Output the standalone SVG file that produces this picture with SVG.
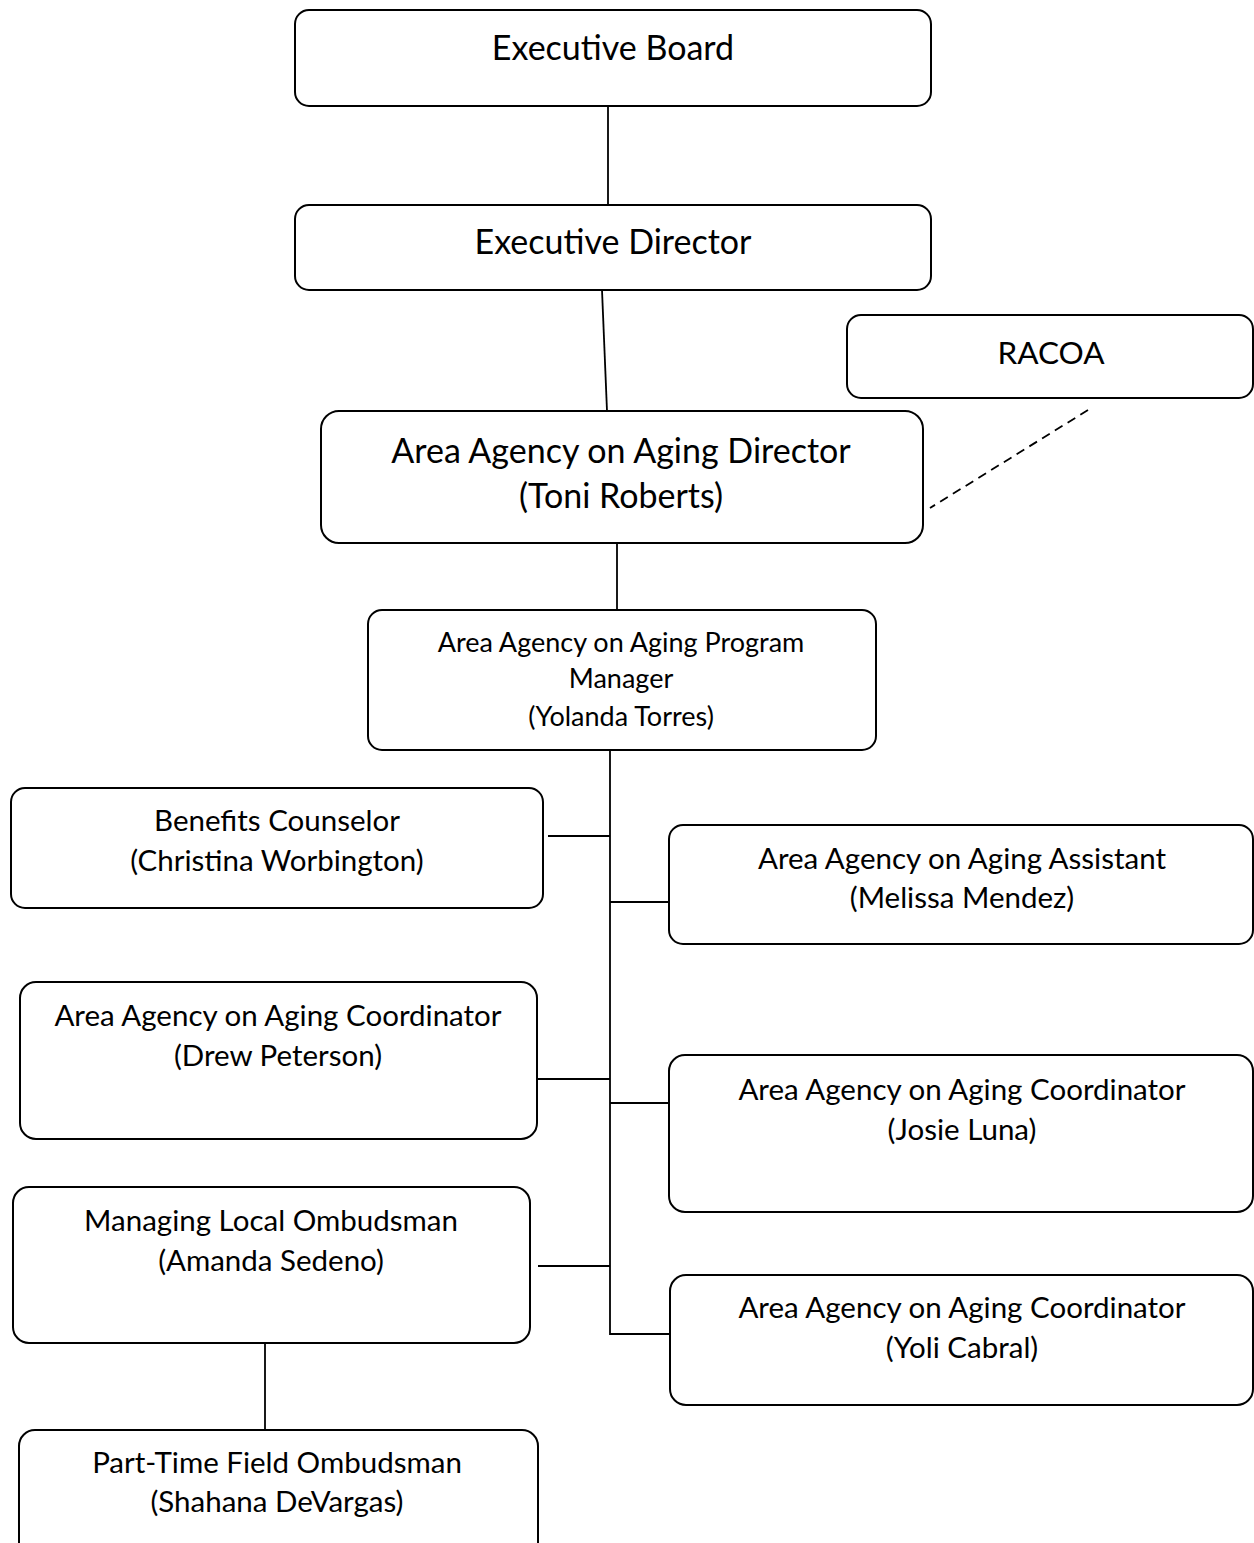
<svg xmlns="http://www.w3.org/2000/svg" width="1254" height="1543" viewBox="0 0 1254 1543">
  <style>
    .box { fill: #ffffff; stroke: #000000; stroke-width: 2; }
    .wire { fill: none; stroke: #000000; stroke-width: 1.8; }
    .dash { fill: none; stroke: #000000; stroke-width: 1.8; stroke-dasharray: 9 6; }
    text { font-family: "Lato", "Liberation Sans", sans-serif; fill: #000000; text-anchor: middle; }
    .t1 { font-size: 34px; }
    .t2 { font-size: 34px; }
    .t3 { font-size: 27px; }
    .t4 { font-size: 29.5px; }
    .tr { font-size: 31.5px; }
  </style>
  <rect width="1254" height="1543" fill="#ffffff"/>

  <!-- reporting lines -->
  <g id="connectors">
    <line class="wire" x1="608" y1="106" x2="608" y2="205"/>
    <line class="wire" x1="602" y1="290" x2="607" y2="411"/>
    <line class="dash" x1="1088" y1="410" x2="930" y2="508"/>
    <line class="wire" x1="617" y1="543" x2="617" y2="610"/>
    <!-- trunk below the program manager -->
    <polyline class="wire" points="610,750 610,1334 670,1334"/>
    <line class="wire" x1="548" y1="836" x2="610" y2="836"/>
    <line class="wire" x1="610" y1="902" x2="669" y2="902"/>
    <line class="wire" x1="537" y1="1079" x2="610" y2="1079"/>
    <line class="wire" x1="610" y1="1103" x2="669" y2="1103"/>
    <line class="wire" x1="538" y1="1266" x2="610" y2="1266"/>
    <line class="wire" x1="265" y1="1343" x2="265" y2="1430"/>
  </g>

  <g id="executive-board">
    <rect class="box" x="295" y="10" width="636" height="96" rx="14"/>
    <text class="t1" x="613" y="60">Executive Board</text>
  </g>

  <g id="executive-director">
    <rect class="box" x="295" y="205" width="636" height="85" rx="14"/>
    <text class="t1" x="613" y="254">Executive Director</text>
  </g>

  <g id="racoa">
    <rect class="box" x="847" y="315" width="406" height="83" rx="14"/>
    <text class="tr" x="1051" y="364">RACOA</text>
  </g>

  <g id="aaa-director">
    <rect class="box" x="321" y="411" width="602" height="132" rx="18"/>
    <text class="t2" x="621" y="463">Area Agency on Aging Director</text>
    <text class="t2" x="621" y="508">(Toni Roberts)</text>
  </g>

  <g id="program-manager">
    <rect class="box" x="368" y="610" width="508" height="140" rx="14"/>
    <text class="t3" x="621" y="652">Area Agency on Aging Program</text>
    <text class="t3" x="621" y="688">Manager</text>
    <text class="t3" x="621" y="726">(Yolanda Torres)</text>
  </g>

  <g id="benefits-counselor">
    <rect class="box" x="11" y="788" width="532" height="120" rx="14"/>
    <text class="t4" x="277" y="831">Benefits Counselor</text>
    <text class="t4" x="277" y="871">(Christina Worbington)</text>
  </g>

  <g id="aaa-assistant">
    <rect class="box" x="669" y="825" width="584" height="119" rx="14"/>
    <text class="t4" x="962" y="869">Area Agency on Aging Assistant</text>
    <text class="t4" x="962" y="908">(Melissa Mendez)</text>
  </g>

  <g id="coordinator-peterson">
    <rect class="box" x="20" y="982" width="517" height="157" rx="16"/>
    <text class="t4" x="278" y="1026">Area Agency on Aging Coordinator</text>
    <text class="t4" x="278" y="1066">(Drew Peterson)</text>
  </g>

  <g id="coordinator-luna">
    <rect class="box" x="669" y="1055" width="584" height="157" rx="16"/>
    <text class="t4" x="962" y="1100">Area Agency on Aging Coordinator</text>
    <text class="t4" x="962" y="1140">(Josie Luna)</text>
  </g>

  <g id="managing-ombudsman">
    <rect class="box" x="13" y="1187" width="517" height="156" rx="16"/>
    <text class="t4" x="271" y="1231">Managing Local Ombudsman</text>
    <text class="t4" x="271" y="1271">(Amanda Sedeno)</text>
  </g>

  <g id="coordinator-cabral">
    <rect class="box" x="670" y="1275" width="583" height="130" rx="16"/>
    <text class="t4" x="962" y="1318">Area Agency on Aging Coordinator</text>
    <text class="t4" x="962" y="1358">(Yoli Cabral)</text>
  </g>

  <g id="field-ombudsman">
    <rect class="box" x="19" y="1430" width="519" height="130" rx="16"/>
    <text class="t4" x="277" y="1473">Part-Time Field Ombudsman</text>
    <text class="t4" x="277" y="1512">(Shahana DeVargas)</text>
  </g>
</svg>
